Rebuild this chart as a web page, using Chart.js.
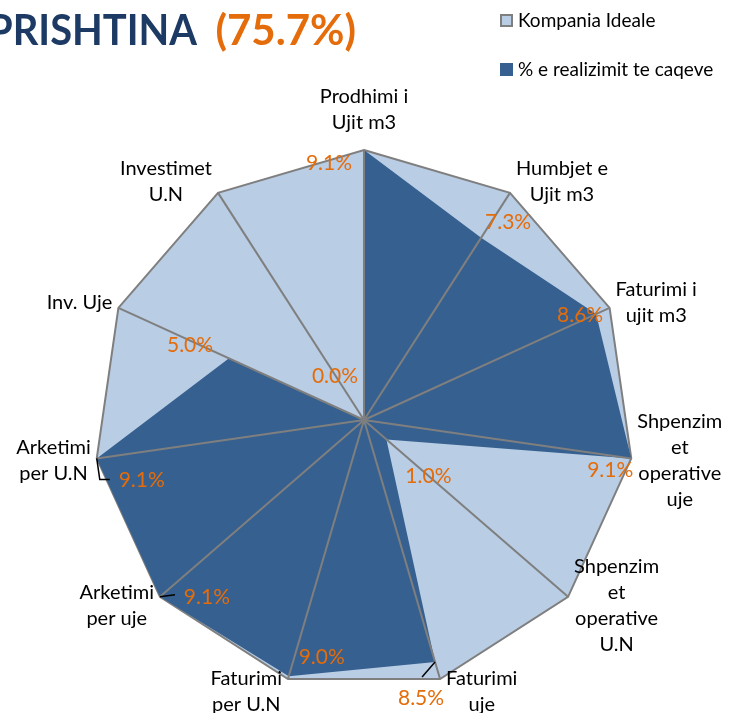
<!DOCTYPE html>
<html>
<head>
<meta charset="utf-8">
<script src="https://cdn.jsdelivr.net/npm/chart.js@4"></script>
<style>
  html, body { margin: 0; padding: 0; background: #fff; }
  #wrap { position: relative; width: 729px; height: 713px; }
</style>
</head>
<body>
<div id="wrap"><canvas id="radar"></canvas></div>
<script>
// chart data
const titleName  = 'PRISHTINA';
const titleScore = '(75.7%)';
const seriesNames = ['Kompania Ideale', '% e realizimit te caqeve'];
const categories = [
  ['Prodhimi i', 'Ujit m3'],
  ['Humbjet e', 'Ujit m3'],
  ['Faturimi i', 'ujit m3'],
  ['Shpenzim', 'et', 'operative', 'uje'],
  ['Shpenzim', 'et', 'operative', 'U.N'],
  ['Faturimi', 'uje'],
  ['Faturimi', 'per U.N'],
  ['Arketimi', 'per uje'],
  ['Arketimi', 'per U.N'],
  ['Inv. Uje'],
  ['Investimet', 'U.N'],
];
const idealValues    = [9.1, 9.1, 9.1, 9.1, 9.1, 9.1, 9.1, 9.1, 9.1, 9.1, 9.1];
const realizedValues = [9.1, 7.3, 8.6, 9.1, 1.0, 8.5, 9.0, 9.1, 9.1, 5.0, 0.0];

// where each value label sits relative to its point (hand placed in the original)
const valueLabelShift = [
  [-35, 13], [27, -16], [-16, 1], [-21, 12], [42, 37], [-14, 36],
  [33, -19], [47, 0], [45, 22], [-39, -13], [-29, -44],
];
// small leader lines drawn from the point toward a moved label
const leaderLines = {
  5: [[0, 0], [-13, 15]],
  7: [[0, 0], [15, -2]],
  8: [[0, 0], [3, 21], [13, 21]],
};

const LIGHT = '#B9CDE5';
const DARK = '#36608F';
const GREY = '#7F7F7F';
const ORANGE = '#E46C0A';
const NAVY = '#1C3A63';
const FONT = 'Lato, "Liberation Sans", sans-serif';

const overlay = {
  id: 'overlay',
  afterDraw(chart) {
    const ctx = chart.ctx;
    const scale = chart.scales.r;
    const cx0 = scale.xCenter, cy0 = scale.yCenter, R = scale.drawingArea;
    ctx.save();

    // title, cut at the left edge like the original
    ctx.textBaseline = 'alphabetic';
    ctx.textAlign = 'right';
    ctx.font = 'bold 42px ' + FONT;
    ctx.fillStyle = ORANGE;
    ctx.fillText(titleScore, 356, 45);
    // Lato runs wider than the original face, squeeze the name a little
    const nameW = ctx.measureText(titleName).width;
    const sx = Math.min(1, 209 / nameW);
    ctx.save();
    ctx.translate(197, 45);
    ctx.scale(sx, 1);
    ctx.fillStyle = NAVY;
    ctx.fillText(titleName, 0, 0);
    ctx.restore();

    // legend
    ctx.font = '19px ' + FONT;
    ctx.textAlign = 'left';
    ctx.textBaseline = 'middle';
    ctx.fillStyle = LIGHT;
    ctx.fillRect(501, 15, 11, 11);
    ctx.strokeStyle = GREY;
    ctx.lineWidth = 2;
    ctx.strokeRect(501, 15, 11, 11);
    ctx.fillStyle = DARK;
    ctx.fillRect(500, 63, 13, 13);
    ctx.fillStyle = '#000';
    ctx.fillText(seriesNames[0], 518, 21);
    ctx.fillText(seriesNames[1], 518, 70);

    // category labels around the outer ring
    ctx.font = '20px ' + FONT;
    const lh = 26;
    categories.forEach((lines, i) => {
      const p = scale.getPointPosition(i, R);
      const s = (p.x - cx0) / R;
      const c = -(p.y - cy0) / R;
      const hw = Math.max(...lines.map(t => ctx.measureText(t).width)) / 2;
      const hh = lines.length * lh / 2;
      let bx, by;
      if (Math.abs(s) < 0.1) {
        bx = p.x;
        by = p.y - (hh + 14) * Math.sign(c);
      } else {
        bx = p.x + Math.sign(s) * (hw + 6);
        by = p.y - c * 13;
      }
      ctx.textAlign = 'center';
      lines.forEach((t, k) => ctx.fillText(t, bx, by - hh + lh * (k + 0.5)));
    });

    // leader lines and value labels
    ctx.strokeStyle = '#000';
    ctx.lineWidth = 1.5;
    Object.keys(leaderLines).forEach(k => {
      const p = scale.getPointPositionForValue(+k, realizedValues[k]);
      ctx.beginPath();
      leaderLines[k].forEach(([dx, dy], j) => {
        if (j === 0) ctx.moveTo(p.x + dx, p.y + dy);
        else ctx.lineTo(p.x + dx, p.y + dy);
      });
      ctx.stroke();
    });

    ctx.font = '21px ' + FONT;
    ctx.fillStyle = ORANGE;
    ctx.textAlign = 'center';
    realizedValues.forEach((v, i) => {
      const p = scale.getPointPositionForValue(i, v);
      const [dx, dy] = valueLabelShift[i];
      ctx.fillText(v.toFixed(1) + '%', p.x + dx, p.y + dy);
    });
    ctx.restore();
  },
};

new Chart(document.getElementById('radar'), {
  type: 'radar',
  data: {
    labels: categories,
    datasets: [
      {
        label: seriesNames[0],
        data: idealValues,
        backgroundColor: LIGHT,
        borderColor: GREY,
        borderWidth: 2,
        fill: true,
        pointRadius: 0,
        order: 2,
      },
      {
        label: seriesNames[1],
        data: realizedValues,
        backgroundColor: DARK,
        borderColor: 'rgba(0,0,0,0)',
        borderWidth: 1,
        fill: true,
        pointRadius: 0,
        order: 1,
      },
    ],
  },
  options: {
    responsive: true,
    maintainAspectRatio: false,
    animation: false,
    events: [],
    layout: { padding: { left: 94, right: 95, top: 150, bottom: 23 } },
    plugins: { legend: { display: false }, tooltip: { enabled: false } },
    elements: { line: { tension: 0 } },
    scales: {
      r: {
        min: 0,
        max: 9.1,
        ticks: { display: false },
        // spokes live in the grid layer: lift it above the filled areas
        grid: { display: false, z: 1 },
        pointLabels: { display: false },
        angleLines: { display: true, color: GREY, lineWidth: 2 },
      },
    },
  },
  plugins: [overlay],
});
</script>
</body>
</html>
